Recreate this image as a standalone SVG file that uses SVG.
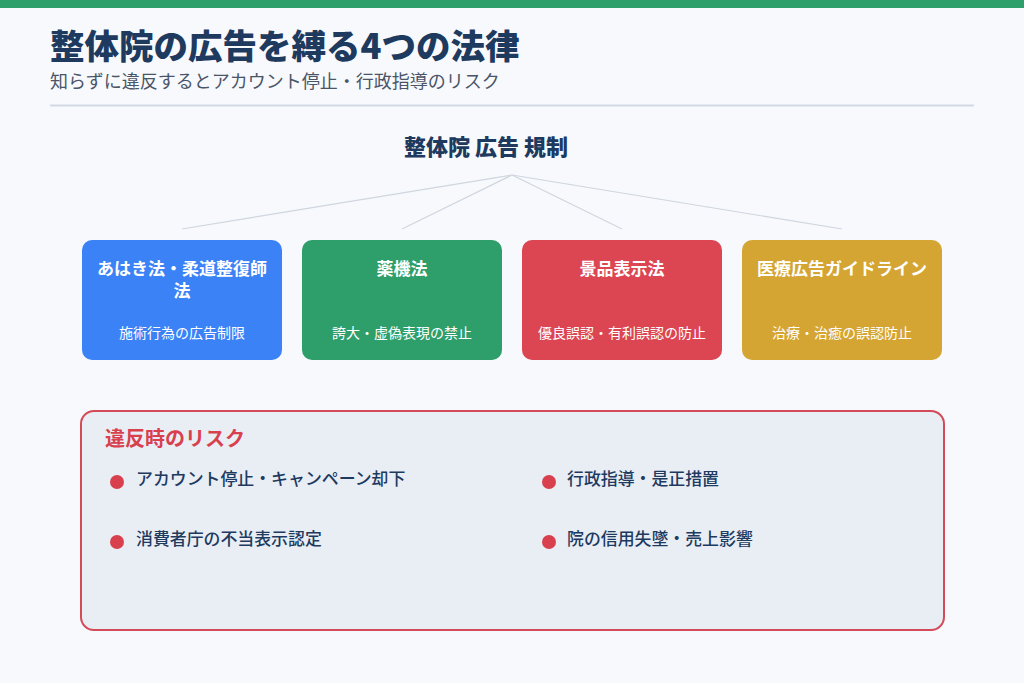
<svg xmlns="http://www.w3.org/2000/svg" width="1024" height="683" viewBox="0 0 1024 683">
  <style>
    text { font-family: "Noto Sans CJK JP", "Noto Sans", sans-serif; }
    .title { font-size: 34.5px; font-weight: 900; fill: #1e3a5f; }
    .sub { font-size: 18px; fill: #4a5568; }
    .center { font-size: 22px; font-weight: 900; fill: #1e3a5f; }
    .card-t { font-size: 17px; font-weight: 700; fill: #ffffff; text-anchor: middle; }
    .card-s { font-size: 14px; fill: #ffffff; text-anchor: middle; }
    .risk-t { font-size: 20px; font-weight: 700; fill: #d9404e; }
    .risk-i { font-size: 16.9px; font-weight: 500; fill: #1e3a5f; }
    .bullet { fill: #d9404e; }
    .conn { stroke: #cfd6e0; stroke-width: 1.2; fill: none; }
  </style>
  <rect x="0" y="0" width="1024" height="683" fill="#f7f9fc"/>
  <rect x="0" y="0" width="1024" height="8" fill="#2e9e6b"/>

  <g id="header">
    <text class="title" x="50" y="59">整体院の広告を縛る4つの法律</text>
    <text class="sub" x="50" y="88">知らずに違反するとアカウント停止・行政指導のリスク</text>
    <line x1="50" y1="105.5" x2="974" y2="105.5" stroke="#d3d9e3" stroke-width="2"/>
  </g>

  <g id="root">
    <text class="center" x="486" y="155" text-anchor="middle">整体院 広告 規制</text>
  </g>

  <g id="connectors">
    <line class="conn" x1="512" y1="175" x2="182" y2="229"/>
    <line class="conn" x1="512" y1="175" x2="402" y2="229"/>
    <line class="conn" x1="512" y1="175" x2="622" y2="229"/>
    <line class="conn" x1="512" y1="175" x2="842" y2="229"/>
  </g>

  <g id="law-ahaki">
    <rect x="82" y="240" width="200" height="120" rx="10" fill="#3b82f6"/>
    <text class="card-t" x="182" y="275">あはき法・柔道整復師</text>
    <text class="card-t" x="182" y="297">法</text>
    <text class="card-s" x="182" y="338">施術行為の広告制限</text>
  </g>
  <g id="law-yakki">
    <rect x="302" y="240" width="200" height="120" rx="10" fill="#2e9e6b"/>
    <text class="card-t" x="402" y="275">薬機法</text>
    <text class="card-s" x="402" y="338">誇大・虚偽表現の禁止</text>
  </g>
  <g id="law-keihin">
    <rect x="522" y="240" width="200" height="120" rx="10" fill="#dc4552"/>
    <text class="card-t" x="622" y="275">景品表示法</text>
    <text class="card-s" x="622" y="338">優良誤認・有利誤認の防止</text>
  </g>
  <g id="law-iryo">
    <rect x="742" y="240" width="200" height="120" rx="10" fill="#d4a532"/>
    <text class="card-t" x="842" y="275">医療広告ガイドライン</text>
    <text class="card-s" x="842" y="338">治療・治癒の誤認防止</text>
  </g>

  <g id="risks">
    <rect x="81" y="411" width="863" height="219" rx="13" fill="#e9eef5" stroke="#d34a58" stroke-width="2"/>
    <text class="risk-t" x="105" y="446">違反時のリスク</text>
    <circle class="bullet" cx="117" cy="482" r="7"/>
    <text class="risk-i" x="136" y="485">アカウント停止・キャンペーン却下</text>
    <circle class="bullet" cx="549" cy="482" r="7"/>
    <text class="risk-i" x="567" y="485">行政指導・是正措置</text>
    <circle class="bullet" cx="117" cy="542" r="7"/>
    <text class="risk-i" x="136" y="545">消費者庁の不当表示認定</text>
    <circle class="bullet" cx="549" cy="542" r="7"/>
    <text class="risk-i" x="567" y="545">院の信用失墜・売上影響</text>
  </g>
</svg>
